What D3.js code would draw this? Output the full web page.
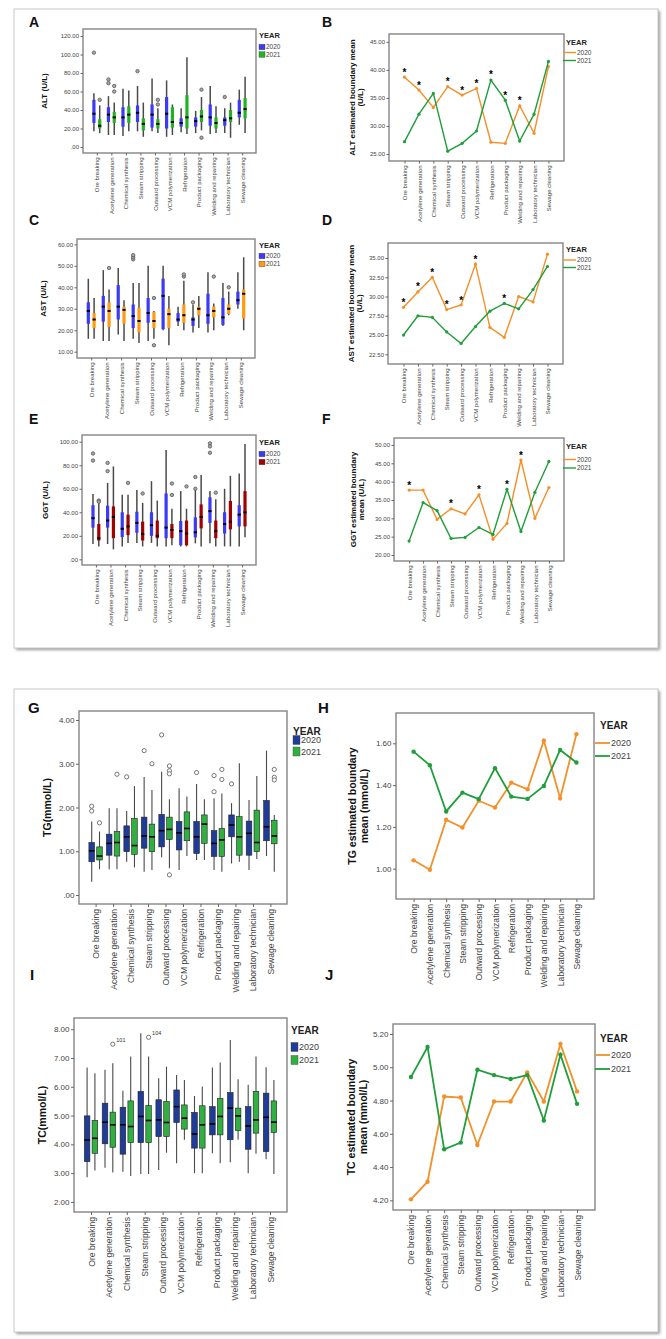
<!DOCTYPE html>
<html>
<head>
<meta charset="utf-8">
<script src="https://cdn.jsdelivr.net/npm/d3@7"></script>
<style>
  body { margin: 0; background: #fff; }
  text { font-family: "Liberation Sans", Arial, sans-serif; }
</style>
</head>
<body>
<script>
// categories
const jobs = ['Ore breaking', 'Acetylene generation', 'Chemical synthesis', 'Steam stripping',
  'Outward processing', 'VCM polymerization', 'Refrigeration', 'Product packaging',
  'Welding and repairing', 'Laboratory technician', 'Sewage cleaning'];
const years = ['2020', '2021'];

// box stats per job: [min, q1, median, q3, max]
const alt2020 = [[17,26,36,51,58],[13,27,35,43,55],[12,22,32,43,63],[17,27,37,45,66],[17,21,35,46,74],[11,20,36,54,72],[16,22,26,31,42],[15,22,28,32,39],[14,23,32,46,66],[15,23,29,32,42],[24,32,37,51,62]];
const alt2021 = [[15,20,23,30,45],[13,26,32,38,48],[17,26,35,44,61],[11,18,25,31,48],[15,20,25,30,42],[13,21,27,43,46],[14,20,32,56,97],[18,27,33,40,54],[15,20,26,32,44],[10,27,31,40,48],[15,31,41,53,76]];
const altOut2020 = [[102],[73,69],[],[82],[],[],[],[],[],[54],[]];
const altOut2021 = [[51],[66,60],[],[],[51,46],[],[],[62,10],[],[],[]];
const altMean2020 = [38.7,36.4,33.3,37.0,35.5,36.7,27.1,26.9,33.6,28.7,40.6];
const altMean2021 = [27.2,32.1,35.8,25.5,26.9,29.1,38.2,34.6,27.3,32.1,41.5];
const altSig = [1,1,0,1,1,1,1,1,1,0,0];

const ast2020 = [[16,23,29,33,44],[15,24,31,36,48],[18,25,31,41,49],[16,21,26.6,32,42],[15,23.5,28,35,50],[20,20.5,36,44,50],[22,24,25,28,31],[19,22,25,26,32],[19,23,27,37,47],[22,22.5,26,35,42],[30,32,34,38,47]];
const ast2021 = [[16,21,25,28,35],[15,21.5,29,33,39],[15,23,29.5,31,34],[14,19,24.3,30.5,42],[16,21,24.3,28.5,29],[13,21,27.5,30,36],[20,23.5,27,32,43],[21,27,30,31,36],[20,26,29,31,32.5],[27,27.5,30,32,38],[20,25.5,37,39,54]];
const astOut2020 = [[],[],[],[53,54,55],[],[],[],[33],[],[],[]];
const astOut2021 = [[],[49],[],[],[35,13],[],[45,46],[],[45],[40],[]];
const astMean2020 = [28.6,30.6,32.5,28.3,28.9,34.2,26.0,24.7,30.0,29.3,35.5];
const astMean2021 = [25.0,27.5,27.3,25.4,23.9,26.1,28.1,29.1,28.4,30.9,33.9];
const astSig = [1,1,1,1,1,1,0,1,0,0,0];

const ggt2020 = [[13,27,35,46,55.5],[13,27,33,45.6,65],[11,19,26,40,55],[14,22.6,31,40.5,59],[14,20,29,40,66.5],[11,18,27,56,93],[11,12,24,32.6,58],[13.6,18.7,23,35.7,59],[13.6,31,41,52.7,58],[11,22,30,40,60],[11,28,38,46,73]];
const ggt2021 = [[11,16,18,30,50],[8.5,18,36,45,79],[14,20.6,28,38,55],[11,16,21.5,32,48],[11,18,20,33,50],[12,18,25,30,43],[11,12,22,33,43],[11,26.3,36,46.7,71.7],[11,18,24,33,51],[11,25.5,32,49.6,71],[18.7,28,40,58,98]];
const ggtOut2020 = [[90,84],[82,75],[],[],[],[],[],[70,60],[98.6,96,90.6],[],[]];
const ggtOut2021 = [[50,49],[],[65],[56],[],[64.5,54.7],[62],[],[56.7],[],[]];
const ggtMean2020 = [37.7,37.7,29.7,32.6,31.2,36.4,24.3,28.6,45.9,30.0,38.4];
const ggtMean2021 = [23.8,34.3,32.1,24.5,24.8,27.5,25.6,37.9,26.4,37.1,45.5];
const ggtSig = [1,0,0,1,0,1,0,1,1,0,0];

const tg2020 = [[0.30,0.76,1.01,1.20,1.68],[0.59,0.91,1.18,1.39,1.98],[0.76,0.99,1.33,1.58,1.92],[0.53,1.07,1.35,1.78,2.70],[0.86,1.10,1.47,1.84,2.82],[0.57,1.03,1.42,1.68,2.44],[0.80,0.95,1.33,1.68,2.54],[0.57,0.88,1.18,1.47,2.21],[0.72,1.33,1.60,1.83,2.10],[0.57,0.91,1.41,1.69,2.17],[0.89,1.24,1.56,2.16,3.30]];
const tg2021 = [[0.59,0.80,0.89,1.10,1.45],[0.59,0.89,1.20,1.45,1.98],[0.63,0.93,1.13,1.75,2.49],[0.57,0.99,1.33,1.62,2.40],[0.61,1.27,1.50,1.78,2.19],[0.89,1.24,1.52,1.90,2.25],[0.80,1.18,1.62,1.83,2.19],[0.53,0.88,1.26,1.52,2.32],[0.76,0.91,1.33,1.79,3.01],[0.82,0.99,1.20,1.94,2.72],[0.53,1.17,1.35,1.71,1.83]];
const tgOut2020 = [[2.03,1.92],[],[2.70],[3.30],[3.66],[],[2.80],[2.73,2.36],[2.54],[],[]];
const tgOut2021 = [[1.65],[2.76],[],[3.00],[2.95,2.84,2.77,0.46],[],[],[2.87,2.64],[],[],[2.87,2.69,2.63]];
const tgMean2020 = [1.040,0.995,1.234,1.197,1.325,1.293,1.412,1.380,1.613,1.337,1.644];
const tgMean2021 = [1.560,1.495,1.274,1.364,1.333,1.481,1.345,1.334,1.396,1.568,1.508];

const tc2020 = [[2.86,3.40,4.15,4.99,6.67],[3.19,4.02,4.77,5.43,6.59],[3.05,3.66,4.68,5.29,5.86],[2.97,4.06,4.97,5.84,7.86],[3.11,4.27,4.85,5.55,6.30],[3.34,4.76,5.31,5.89,6.41],[3.00,3.87,4.36,5.11,5.68],[3.69,4.33,4.71,5.31,6.67],[3.38,4.16,5.26,5.80,7.63],[3.00,3.83,4.64,5.31,6.07],[3.48,3.75,4.94,5.78,6.68]];
const tc2021 = [[3.09,3.69,4.21,4.83,6.47],[3.02,3.90,4.68,5.12,6.82],[2.90,4.06,4.62,5.51,7.05],[2.97,4.06,4.83,5.35,7.05],[3.71,4.27,4.76,5.49,6.70],[4.16,4.53,4.91,5.37,6.24],[3.00,3.87,4.68,5.34,6.01],[3.34,4.33,4.97,5.60,6.84],[4.16,4.48,4.99,5.26,6.26],[3.67,4.39,4.85,5.84,7.05],[2.97,4.41,4.77,5.51,6.24]];
const tcOut2020 = [[],[],[],[],[],[],[],[],[],[],[]];
const tcOut2021 = [[],[7.48],[],[7.72],[],[],[],[],[],[],[]];
const tcOutCase2021 = ['', '101', '', '104', '', '', '', '', '', '', ''];
const tcMean2020 = [4.206,4.312,4.824,4.818,4.533,4.794,4.794,4.969,4.794,5.140,4.855];
const tcMean2021 = [4.941,5.122,4.507,4.547,4.985,4.953,4.929,4.953,4.680,5.076,4.780];

// tick values
const altTicks = [0,20,40,60,80,100,120];
const altMeanTicks = [25,30,35,40,45];
const astTicks = [10,20,30,40,50,60];
const astMeanTicks = [22.5,25,27.5,30,32.5,35];
const ggtTicks = [0,20,40,60,80,100];
const ggtMeanTicks = [20,25,30,35,40,45,50];
const tgTicks = [0,1,2,3,4];
const tgMeanTicks = [1.0,1.2,1.4,1.6];
const tcTicks = [2,3,4,5,6,7,8];
const tcMeanTicks = [4.2,4.4,4.6,4.8,5.0,5.2];

const fmt = d => d3.format('.2f')(d).replace(/^0\./, '.');

const orange = '#f2902a', green = '#1f9e3b';

const small = { tick: 6, cat: 6, title: 8, legT: 7.5, leg: 6.5, tl: 2.5, off: 2.9, bw: 3.2, ww: 1.5, r: 1.7, lw: 1.4, mr: 1.6, sw: 6, sh: 5.5, letter: 14, outFill: '#a8a8a8' };
const big = { tick: 8, cat: 8.6, title: 10.5, legT: 10, leg: 9, tl: 3, off: 3.9, bw: 5.6, ww: 1.1, r: 2.1, lw: 1.8, mr: 2.2, sw: 7, sh: 9, letter: 15, outFill: '#fff' };

const svg = d3.select('body').append('svg')
    .attr('width', 666)
    .attr('height', 1339);

const filt = svg.append('defs').append('filter').attr('id', 'shadow')
    .attr('x', '-5%').attr('y', '-5%').attr('width', '110%').attr('height', '110%');
filt.append('feGaussianBlur').attr('stdDeviation', 1.6);

// outer frames
[{ x: 14, y: 9, w: 644, h: 639 }, { x: 14, y: 689, w: 644, h: 643 }].forEach(b => {
    svg.append('rect').attr('x', b.x + 2).attr('y', b.y + 2).attr('width', b.w).attr('height', b.h)
        .attr('fill', '#9a9a9a').attr('filter', 'url(#shadow)');
    svg.append('rect').attr('x', b.x).attr('y', b.y).attr('width', b.w).attr('height', b.h)
        .attr('fill', '#fff').attr('stroke', '#c8c8c8');
});

const panels = [
    { type: 'box', L: 'A', lx: 29, ly: 27, x0: 83, x1: 256, y0: 29, y1: 153, dom: [-6.5, 127.6], ticks: altTicks,
      title: ['ALT (U/L)'], tx: [44], s: small, leg: { x: 259, ty: 38, e0: 47, step: 7.5 },
      series: [{ stats: alt2020, out: altOut2020, color: '#3b3bf5' }, { stats: alt2021, out: altOut2021, color: '#22b322' }] },
    { type: 'line', L: 'B', lx: 322, ly: 27, x0: 389, x1: 564, y0: 34, y1: 161, dom: [23.75, 46.4], ticks: altMeanTicks,
      title: ['ALT estimated boundary mean', '(U/L)'], tx: [352, 360], s: small, leg: { x: 566, lx: 563, ty: 45, e0: 52.5, step: 8 },
      series: [{ vals: altMean2020, color: orange }, { vals: altMean2021, color: green }], sig: altSig },
    { type: 'box', L: 'C', lx: 29, ly: 225, x0: 77, x1: 255, y0: 239, y1: 358, dom: [7.07, 62.5], ticks: astTicks,
      title: ['AST (U/L)'], tx: [43], s: small, leg: { x: 259, ty: 248, e0: 256, step: 8 },
      series: [{ stats: ast2020, out: astOut2020, color: '#3b3bf5' }, { stats: ast2021, out: astOut2021, color: '#ff9a14' }] },
    { type: 'line', L: 'D', lx: 322, ly: 225, x0: 388, x1: 563, y0: 243, y1: 364, dom: [21.24, 36.95], ticks: astMeanTicks,
      title: ['AST estimated boundary mean', '(U/L)'], tx: [351, 359], s: small, leg: { x: 566, lx: 563, ty: 252, e0: 260, step: 7.5 },
      series: [{ vals: astMean2020, color: orange }, { vals: astMean2021, color: green }], sig: astSig },
    { type: 'box', L: 'E', lx: 29, ly: 424, x0: 82, x1: 256, y0: 435, y1: 565, dom: [-4.8, 105.7], ticks: ggtTicks,
      title: ['GGT (U/L)'], tx: [45], s: small, leg: { x: 259, ty: 445, e0: 454, step: 8 },
      series: [{ stats: ggt2020, out: ggtOut2020, color: '#3b3bf5' }, { stats: ggt2021, out: ggtOut2021, color: '#a30000' }] },
    { type: 'line', L: 'F', lx: 322, ly: 424, x0: 394, x1: 564, y0: 438, y1: 561, dom: [18.36, 51.9], ticks: ggtMeanTicks,
      title: ['GGT estimated boundary', 'mean (U/L)'], tx: [353, 361], s: small, leg: { x: 566, lx: 563, ty: 449, e0: 459.5, step: 8.5 },
      series: [{ vals: ggtMean2020, color: orange }, { vals: ggtMean2021, color: green }], sig: ggtSig },
    { type: 'box', L: 'G', lx: 28, ly: 713, x0: 79, x1: 287, y0: 711, y1: 904, dom: [-0.206, 4.206], ticks: tgTicks,
      title: ['TG(mmol/L)'], tx: [47], s: big, leg: { x: 293, ty: 735, e0: 740, step: 11.5 },
      series: [{ stats: tg2020, out: tgOut2020, color: '#1f3c98' }, { stats: tg2021, out: tgOut2021, color: '#2fb040' }] },
    { type: 'line', L: 'H', lx: 318, ly: 713, x0: 396, x1: 594, y0: 713, y1: 899, dom: [0.855, 1.745], ticks: tgMeanTicks,
      title: ['TG estimated boundary', 'mean (mmol/L)'], tx: [352, 364], s: big, leg: { x: 600, lx: 595, ty: 729, e0: 743, step: 13 },
      series: [{ vals: tgMean2020, color: orange }, { vals: tgMean2021, color: green }] },
    { type: 'box', L: 'I', lx: 30, ly: 980, x0: 74, x1: 287, y0: 1018, y1: 1212, dom: [1.65, 8.39], ticks: tcTicks,
      title: ['TC(mmol/L)'], tx: [42], s: big, leg: { x: 291, ty: 1034, e0: 1047, step: 13 },
      series: [{ stats: tc2020, out: tcOut2020, color: '#1f3c98' }, { stats: tc2021, out: tcOut2021, color: '#2fb040', cases: tcOutCase2021 }] },
    { type: 'line', L: 'J', lx: 325, ly: 980, x0: 393, x1: 595, y0: 1024, y1: 1210, dom: [4.142, 5.26], ticks: tcMeanTicks,
      title: ['TC estimated boundary', 'mean (mmol/L)'], tx: [351, 363], s: big, leg: { x: 600, lx: 595, ty: 1042, e0: 1055, step: 14 },
      series: [{ vals: tcMean2020, color: orange }, { vals: tcMean2021, color: green }] }
];

// frame, axes, titles shared by both panel kinds
const base = (p, pad) => {
    const s = p.s;
    const g = svg.append('g');
    const x = d3.scalePoint().domain(jobs).range([p.x0, p.x1]).padding(pad);
    const y = d3.scaleLinear().domain(p.dom).range([p.y1, p.y0]);

    g.append('rect').attr('x', p.x0).attr('y', p.y0)
        .attr('width', p.x1 - p.x0).attr('height', p.y1 - p.y0)
        .attr('fill', '#fff').attr('stroke', '#858585').attr('stroke-width', 1.4);

    const ya = g.append('g').attr('transform', `translate(${p.x0},0)`)
        .call(d3.axisLeft(y).tickValues(p.ticks).tickFormat(fmt).tickSize(s.tl).tickPadding(1.5));
    const xa = g.append('g').attr('transform', `translate(0,${p.y1})`)
        .call(d3.axisBottom(x).tickSize(s.tl));
    [ya, xa].forEach(a => {
        a.select('.domain').remove();
        a.selectAll('line').attr('stroke', '#666');
        a.selectAll('text').attr('fill', '#444').attr('font-family', '"Liberation Sans", Arial, sans-serif');
    });
    ya.selectAll('text').attr('font-size', s.tick);
    xa.selectAll('text').attr('font-size', s.cat)
        .attr('transform', 'rotate(-90)')
        .attr('text-anchor', 'end')
        .attr('x', -(s.tl + 2)).attr('y', 0).attr('dy', '0.35em');

    // y title
    const cy = (p.y0 + p.y1) / 2;
    p.title.forEach((t, i) => {
        g.append('text').attr('transform', `translate(${p.tx[i]},${cy}) rotate(-90)`)
            .attr('text-anchor', 'middle').attr('dy', '0.35em')
            .attr('font-size', s.title).attr('font-weight', 'bold').attr('fill', '#111')
            .text(t);
    });

    // panel letter
    svg.append('text').attr('x', p.lx).attr('y', p.ly)
        .attr('font-size', s.letter).attr('font-weight', 'bold').attr('fill', '#111').text(p.L);

    // legend title
    g.append('text').attr('x', p.leg.x).attr('y', p.leg.ty)
        .attr('font-size', s.legT).attr('font-weight', 'bold').attr('fill', '#222').text('YEAR');

    return { g, x, y };
};

const boxPanel = p => {
    const s = p.s;
    const { g, x, y } = base(p, 0.95);

    p.series.forEach((ser, k) => {
        const dx = k ? s.off : -s.off;
        const cx = i => x(jobs[i]) + dx;
        const grp = g.append('g');

        grp.selectAll('line.wh').data(ser.stats).join('line').attr('class', 'wh')
            .attr('x1', (d, i) => cx(i)).attr('x2', (d, i) => cx(i))
            .attr('y1', d => y(d[0])).attr('y2', d => y(d[4]))
            .attr('stroke', '#4a4a4a').attr('stroke-width', s.ww);

        grp.selectAll('rect').data(ser.stats).join('rect')
            .attr('x', (d, i) => cx(i) - s.bw / 2).attr('width', s.bw)
            .attr('y', d => y(d[3])).attr('height', d => y(d[1]) - y(d[3]))
            .attr('fill', ser.color)
            .attr('stroke', s === big ? '#222' : 'none').attr('stroke-width', 0.6);

        grp.selectAll('line.md').data(ser.stats).join('line').attr('class', 'md')
            .attr('x1', (d, i) => cx(i) - s.bw / 2).attr('x2', (d, i) => cx(i) + s.bw / 2)
            .attr('y1', d => y(d[2])).attr('y2', d => y(d[2]))
            .attr('stroke', '#000').attr('stroke-width', s === big ? 1.6 : 2);

        const outs = ser.out.flatMap((arr, i) => arr.map((v, j) => ({ i, v, j })));
        grp.selectAll('circle').data(outs).join('circle')
            .attr('cx', d => cx(d.i)).attr('cy', d => y(d.v)).attr('r', s.r)
            .attr('fill', s.outFill).attr('stroke', '#555').attr('stroke-width', 0.8);

        if (ser.cases) {
            grp.selectAll('text.case').data(outs.filter(d => d.j === 0 && ser.cases[d.i])).join('text')
                .attr('class', 'case')
                .attr('x', d => cx(d.i) + 3.5).attr('y', d => y(d.v) - 2)
                .attr('font-size', 5.5).attr('fill', '#333')
                .text(d => ser.cases[d.i]);
        }

        // legend swatch
        const ey = p.leg.e0 + k * p.leg.step;
        g.append('rect').attr('x', p.leg.x).attr('y', ey - s.sh / 2)
            .attr('width', s.sw).attr('height', s.sh)
            .attr('fill', ser.color).attr('stroke', '#444').attr('stroke-width', 0.4);
        g.append('text').attr('x', p.leg.x + s.sw + 1).attr('y', ey).attr('dy', '0.35em')
            .attr('font-size', s.leg).attr('fill', '#444').text(years[k]);
    });
};

const linePanel = p => {
    const s = p.s;
    const { g, x, y } = base(p, 1.08);
    const line = d3.line().x((d, i) => x(jobs[i])).y(d => y(d));

    p.series.forEach((ser, k) => {
        g.append('path').datum(ser.vals).attr('d', line)
            .attr('fill', 'none').attr('stroke', ser.color).attr('stroke-width', s.lw);
        g.append('g').selectAll('circle').data(ser.vals).join('circle')
            .attr('cx', (d, i) => x(jobs[i])).attr('cy', d => y(d)).attr('r', s.mr)
            .attr('fill', ser.color);

        const ey = p.leg.e0 + k * p.leg.step;
        g.append('line').attr('x1', p.leg.lx).attr('x2', p.leg.lx + (s === big ? 15 : 13))
            .attr('y1', ey).attr('y2', ey)
            .attr('stroke', ser.color).attr('stroke-width', s.lw);
        g.append('text').attr('x', p.leg.lx + (s === big ? 16 : 14)).attr('y', ey).attr('dy', '0.35em')
            .attr('font-size', s.leg).attr('fill', '#444').text(years[k]);
    });

    // significance marks above the higher of the two means
    if (p.sig) {
        const marks = p.sig.map((d, i) => ({ d, i, v: Math.max(p.series[0].vals[i], p.series[1].vals[i]) }))
            .filter(m => m.d);
        g.selectAll('text.sig').data(marks).join('text').attr('class', 'sig')
            .attr('x', m => x(jobs[m.i])).attr('y', m => y(m.v) - 1.5)
            .attr('text-anchor', 'middle')
            .attr('font-size', 10).attr('font-weight', 'bold').attr('fill', '#000')
            .text('*');
    }
};

panels.forEach(p => p.type === 'box' ? boxPanel(p) : linePanel(p));
</script>
</body>
</html>
